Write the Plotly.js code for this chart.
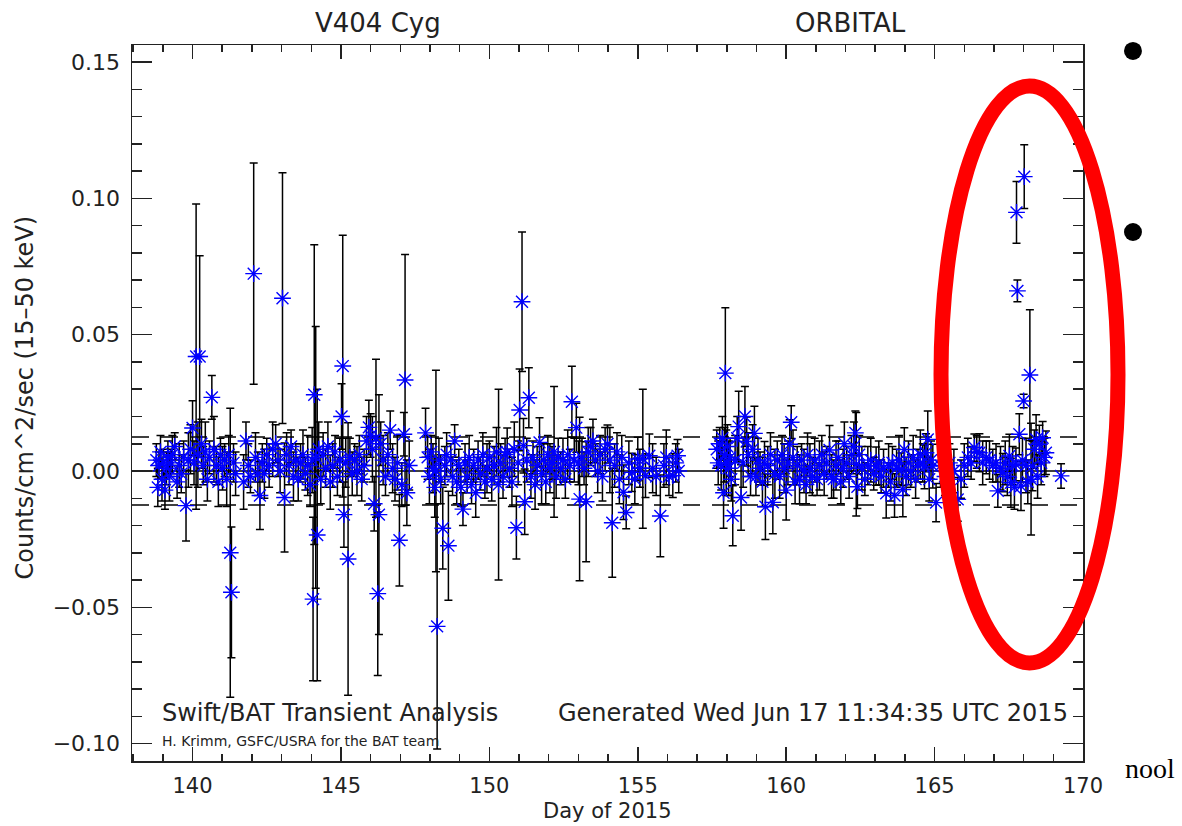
<!DOCTYPE html>
<html><head><meta charset="utf-8">
<script src="https://cdn.plot.ly/plotly-3.0.1.min.js"></script>
<style>html,body{margin:0;padding:0;background:#fff}#chart{width:1182px;height:826px}</style>
</head><body><div id="chart"></div>
<script>
const days = [
138.78,138.83,138.87,138.92,138.97,139.02,139.07,139.12,139.17,139.22,139.27,139.32,139.40,139.48,139.55,139.62,139.70,139.78,139.86,139.93,
140.00,140.05,140.12,140.18,140.24,140.30,140.36,140.43,140.50,140.57,140.65,140.72,140.80,140.87,140.94,141.01,141.08,141.15,141.22,141.27,
141.31,141.38,141.45,141.72,141.80,141.88,141.95,142.06,142.12,142.20,142.27,142.35,142.42,142.50,142.58,142.70,142.80,142.88,142.95,143.03,
143.10,143.17,143.25,143.32,143.40,143.48,143.56,143.64,143.72,143.80,143.88,143.96,144.03,144.06,144.10,144.15,144.20,144.25,144.32,144.40,
144.48,144.56,144.64,144.72,144.80,144.88,144.96,145.02,145.06,145.10,145.16,145.24,145.30,145.38,145.46,145.54,145.62,145.70,145.78,145.86,
145.94,146.00,146.06,146.12,146.18,146.24,146.28,146.34,146.42,146.50,146.58,146.66,146.74,146.82,146.90,146.97,147.05,147.12,147.16,147.22,
147.30,147.85,147.92,147.98,148.04,148.10,148.16,148.20,148.24,148.30,148.36,148.43,148.50,148.56,148.62,148.70,148.76,148.83,148.90,148.97,
149.04,149.11,149.18,149.25,149.32,149.40,149.47,149.54,149.62,149.70,149.78,149.85,149.92,150.00,150.08,150.16,150.24,150.31,150.38,150.46,
150.53,150.60,150.68,150.76,150.84,150.91,150.97,151.02,151.10,151.15,151.19,151.26,151.33,151.40,151.47,151.54,151.61,151.69,151.76,151.83,
151.90,151.97,152.04,152.11,152.18,152.25,152.32,152.40,152.48,152.56,152.64,152.71,152.78,152.86,152.93,153.00,153.04,153.12,153.19,153.26,
153.33,153.41,153.49,153.57,153.65,153.73,153.81,153.90,153.98,154.06,154.14,154.22,154.30,154.38,154.46,154.52,154.61,154.70,154.80,154.90,
155.00,155.07,155.17,155.26,155.39,155.50,155.62,155.76,155.88,155.96,156.05,156.18,156.28,156.34,156.38,
157.66,157.71,157.76,157.81,157.85,157.89,157.92,157.95,157.98,158.02,158.06,158.11,158.15,158.20,158.28,158.35,158.40,158.48,158.55,158.61,
158.67,158.72,158.80,158.87,158.93,158.98,159.05,159.12,159.20,159.27,159.30,159.38,159.47,159.55,159.62,159.70,159.78,159.86,159.93,160.00,
160.06,160.12,160.17,160.23,160.30,160.37,160.45,160.52,160.60,160.67,160.72,160.80,160.88,160.96,161.04,161.12,161.20,161.28,161.36,161.46,
161.53,161.60,161.68,161.76,161.84,161.92,161.96,162.04,162.12,162.20,162.28,162.33,162.36,162.40,162.46,162.55,162.65,162.75,162.85,162.95,
163.03,163.12,163.20,163.28,163.37,163.45,163.52,163.58,163.65,163.72,163.80,163.88,163.93,163.98,164.04,164.12,164.20,164.28,164.36,164.44,
164.52,164.60,164.66,164.71,164.77,164.82,164.88,164.94,165.05,165.20,165.35,165.50,165.65,165.78,165.89,166.00,166.12,166.23,166.34,166.42,
166.51,166.62,166.74,166.85,166.96,167.07,167.13,167.22,167.30,167.38,167.45,167.52,167.57,167.63,167.69,167.74,167.76,167.79,167.855,167.91,
167.96,168.00,168.02,168.08,168.14,168.21,168.25,168.30,168.36,168.42,168.47,168.53,168.59,168.64,168.70,168.75,169.26
];
const rates = [
0.004,-0.006,0.002,0.007,-0.003,0.003,-0.007,0.001,0.005,-0.002,0.003,0.006,0.009,-0.004,0.002,-0.001,0.005,-0.0127,0.004,0.008,
0.0158,0.003,0.042,0.006,0.042,0.010,0.002,0.007,-0.003,0.005,0.027,0.008,0.002,-0.004,0.006,0.001,0.004,-0.003,0.006,-0.030,
-0.0445,0.003,-0.001,-0.004,0.011,0.002,-0.002,0.0724,0.005,-0.001,-0.009,0.003,-0.001,0.006,0.002,0.008,0.010,0.004,0.000,0.0634,
-0.0097,0.006,0.002,0.009,-0.002,0.004,-0.003,0.003,0.006,-0.001,0.002,-0.005,0.004,-0.047,0.028,0.005,-0.0235,0.008,-0.003,0.006,
0.001,0.009,-0.004,0.002,0.007,-0.002,0.004,0.020,0.0385,-0.016,0.003,-0.0323,0.005,-0.001,0.004,0.000,0.006,-0.003,0.002,0.011,
0.016,0.013,0.008,-0.012,0.012,-0.045,-0.016,0.010,0.004,-0.002,0.006,0.015,0.001,-0.003,0.003,-0.0254,-0.005,0.0135,0.0334,-0.008,
0.002,0.014,0.005,-0.002,0.007,0.001,-0.006,0.000,-0.057,0.004,-0.003,-0.021,0.002,0.006,-0.0274,0.004,-0.002,0.011,-0.004,0.002,
-0.006,-0.014,0.003,-0.002,0.005,-0.005,0.002,-0.008,0.004,-0.001,0.006,-0.004,0.001,0.005,-0.003,0.002,0.007,-0.005,0.003,-0.002,
0.006,0.0068,0.001,-0.004,0.008,-0.0208,0.003,0.0224,0.0621,0.0093,-0.0113,0.004,0.0269,-0.002,0.005,-0.005,0.002,0.0105,-0.001,0.004,
-0.004,0.006,0.001,0.003,0.007,-0.002,0.005,0.001,0.004,-0.003,0.006,0.002,0.0254,0.004,0.0159,0.003,-0.0103,0.005,0.001,-0.0113,
0.007,0.009,0.011,0.004,0.000,0.006,-0.002,0.008,0.0099,0.004,-0.019,0.002,0.007,-0.003,0.005,-0.0078,-0.0152,0.003,-0.0005,-0.003,
0.0044,0.001,0.0045,-0.0017,0.0056,0.001,-0.002,-0.0165,0.002,0.005,-0.002,-0.0017,0.003,0.0056,0.000,
0.008,0.003,0.010,0.002,0.012,-0.008,0.006,0.0359,0.003,0.009,0.001,0.005,-0.003,-0.0164,0.004,0.012,0.0163,-0.0097,0.003,0.020,
0.0108,0.006,-0.002,0.008,0.0138,-0.002,0.004,0.001,-0.004,0.0028,-0.0131,0.002,0.006,-0.0115,-0.001,0.004,-0.002,0.006,0.001,-0.007,
0.003,0.0098,0.0179,0.005,-0.004,0.002,-0.003,0.004,0.000,-0.005,0.0059,0.001,-0.002,0.004,-0.003,0.002,0.006,-0.001,0.003,0.0077,
-0.002,-0.003,0.002,0.005,-0.004,0.001,0.010,0.003,-0.002,0.006,0.009,0.014,0.0025,-0.0058,0.006,0.001,-0.003,0.002,0.004,-0.001,
0.0018,0.003,-0.002,0.001,-0.0082,0.002,-0.004,0.003,-0.009,0.001,0.004,0.0006,-0.0068,0.0079,-0.002,0.003,0.000,0.005,-0.003,0.002,
0.006,0.003,0.0015,0.0067,0.0116,-0.003,0.004,0.0018,-0.0116,0.002,-0.002,0.003,0.000,-0.0104,-0.003,0.002,0.005,0.003,0.0086,0.007,
0.0067,0.003,0.005,0.004,0.002,0.003,-0.0073,0.001,-0.0006,0.003,-0.002,0.0055,-0.0043,0.002,-0.006,0.0024,0.0949,0.0661,0.0135,-0.0055,
0.004,0.0257,0.108,0.002,-0.004,0.0352,-0.003,0.0018,0.008,0.0116,-0.002,0.0098,0.003,0.0122,0.005,0.0067,-0.0018
];
const errors = [
0.006,0.007,0.005,0.006,0.008,0.005,0.007,0.006,0.006,0.009,0.005,0.007,0.005,0.006,0.008,0.007,0.006,0.013,0.010,0.009,
0.010,0.008,0.056,0.012,0.037,0.009,0.007,0.011,0.008,0.006,0.008,0.012,0.007,0.009,0.006,0.008,0.006,0.010,0.007,0.053,
0.024,0.007,0.008,0.010,0.007,0.008,0.006,0.0406,0.009,0.008,0.0125,0.007,0.009,0.006,0.008,0.010,0.007,0.006,0.008,0.046,
0.020,0.008,0.007,0.006,0.009,0.006,0.008,0.007,0.009,0.006,0.011,0.008,0.012,0.030,0.055,0.048,0.0535,0.010,0.009,0.008,
0.007,0.009,0.010,0.008,0.006,0.007,0.008,0.012,0.048,0.012,0.009,0.050,0.007,0.008,0.006,0.009,0.007,0.008,0.006,0.009,
0.010,0.008,0.012,0.010,0.029,0.030,0.044,0.008,0.009,0.007,0.008,0.007,0.009,0.008,0.010,0.0168,0.008,0.008,0.046,0.012,
0.009,0.009,0.008,0.010,0.006,0.009,0.011,0.037,0.045,0.008,0.009,0.015,0.007,0.008,0.020,0.006,0.007,0.006,0.008,0.006,
0.007,0.006,0.007,0.006,0.008,0.007,0.006,0.009,0.007,0.006,0.008,0.006,0.009,0.006,0.008,0.007,0.009,0.035,0.007,0.008,
0.006,0.009,0.007,0.009,0.010,0.0115,0.008,0.015,0.0256,0.010,0.012,0.008,0.011,0.008,0.006,0.009,0.007,0.009,0.011,0.006,
0.008,0.007,0.009,0.006,0.024,0.008,0.007,0.006,0.008,0.007,0.009,0.006,0.013,0.008,0.009,0.008,0.030,0.007,0.006,0.022,
0.009,0.007,0.008,0.006,0.008,0.007,0.009,0.008,0.007,0.012,0.020,0.008,0.007,0.009,0.008,0.010,0.006,0.008,0.007,0.009,
0.008,0.007,0.0255,0.008,0.008,0.009,0.007,0.015,0.008,0.010,0.007,0.008,0.007,0.006,0.008,
0.007,0.008,0.006,0.009,0.008,0.013,0.010,0.024,0.012,0.008,0.010,0.007,0.008,0.011,0.009,0.008,0.013,0.012,0.009,0.011,
0.009,0.008,0.007,0.009,0.010,0.007,0.008,0.006,0.009,0.008,0.012,0.007,0.008,0.0115,0.009,0.007,0.008,0.007,0.009,0.011,
0.008,0.009,0.006,0.010,0.008,0.007,0.009,0.006,0.008,0.007,0.008,0.009,0.007,0.008,0.006,0.009,0.007,0.008,0.006,0.009,
0.008,0.007,0.009,0.006,0.008,0.007,0.008,0.006,0.008,0.007,0.009,0.008,0.019,0.008,0.007,0.008,0.006,0.007,0.008,0.006,
0.007,0.008,0.006,0.007,0.009,0.008,0.007,0.006,0.008,0.007,0.009,0.006,0.010,0.008,0.007,0.008,0.006,0.008,0.007,0.006,
0.009,0.007,0.008,0.007,0.0104,0.008,0.007,0.008,0.007,0.008,0.007,0.007,0.008,0.008,0.007,0.008,0.007,0.006,0.005,0.006,
0.007,0.008,0.006,0.007,0.006,0.007,0.006,0.008,0.007,0.008,0.007,0.008,0.009,0.007,0.008,0.006,0.0113,0.004,0.0075,0.009,
0.008,0.0025,0.0117,0.010,0.008,0.024,0.0205,0.009,0.007,0.009,0.008,0.007,0.008,0.006,0.007,0.008,0.0045
];
const referenceLevels = [0];
const thresholdLevels = [-0.0125, 0.0125];
const xTick0 = 140, xTickStep = 5, xMinorStep = 1;
const yTickStep = 0.05, yMinorStep = 0.01;
const xRange = [137.96, 170.0];
const yRange = [-0.1064, 0.1563];
const topTitles = ["V404 Cyg", "ORBITAL"];
const xTitle = "Day of 2015";
const yTitle = "Counts/cm^2/sec (15–50 keV)";
const creditMain = "Swift/BAT Transient Analysis";
const creditSub = "H. Krimm, GSFC/USRA for the BAT team";
const generatedText = "Generated Wed Jun 17 11:34:35 UTC 2015";

const FONT = "DejaVu Sans";
const INK = "#222";

const trace = {
  x: days, y: rates, type: "scatter", mode: "markers",
  marker: {symbol: "asterisk-open", size: 14, color: "#0000ff", line: {color: "#0000ff", width: 1.4}},
  error_y: {type: "data", array: errors, visible: true, color: "#000", thickness: 1.5, width: 4},
  hoverinfo: "x+y"
};

const shapes = [];
referenceLevels.forEach(v => shapes.push({type: "line", xref: "paper", x0: 0, x1: 1, yref: "y", y0: v, y1: v, layer: "below", line: {color: "#000", width: 1.5}}));
thresholdLevels.forEach(v => shapes.push({type: "line", xref: "paper", x0: 0, x1: 1, yref: "y", y0: v, y1: v, layer: "below", line: {color: "#000", width: 1.5, dash: "17px,12px"}}));
// slide overlay: red ellipse and bullets
shapes.push({type: "circle", xref: "paper", yref: "paper", x0: 0.8507, x1: 1.0368, y0: 0.1369, y1: 0.9427, layer: "above", line: {color: "#ff0000", width: 15}});
shapes.push({type: "circle", xref: "paper", yref: "paper", x0: 1.0431, x1: 1.0620, y0: 0.9791, y1: 1.0042, fillcolor: "#000", line: {width: 0}});
shapes.push({type: "circle", xref: "paper", yref: "paper", x0: 1.0431, x1: 1.0620, y0: 0.7263, y1: 0.7514, fillcolor: "#000", line: {width: 0}});

const ann = (text, x, y, size, extra) => Object.assign({text, x, y, xref: "paper", yref: "paper", showarrow: false, font: {family: FONT, size, color: INK}, xanchor: "center", yanchor: "middle"}, extra || {});

const annotations = [
  ann(topTitles[0], 0.2587, 1.031, 26),
  ann(topTitles[1], 0.755, 1.031, 26),
  ann(xTitle, 0.5, -0.0705, 21),
  ann(yTitle, -0.1125, 0.5077, 24, {textangle: -90}),
  ann(creditMain, 0.0294, 0.067, 24, {xanchor: "left"}),
  ann(generatedText, 0.9863, 0.067, 24, {xanchor: "right"}),
  ann(creditSub, 0.0294, 0.028, 14, {xanchor: "left"}),
  {text: "nool", x: 1.042, y: -0.010, xref: "paper", yref: "paper", showarrow: false, xanchor: "left", yanchor: "middle", font: {family: "Liberation Serif", size: 28, color: "#000"}}
];

const axisCommon = {showline: true, linewidth: 1.5, linecolor: INK, mirror: "ticks", ticks: "inside", tickwidth: 1.5, tickcolor: INK, showgrid: false, zeroline: false, tickfont: {family: FONT, size: 21, color: INK}};

const layout = {
  width: 1182, height: 826,
  margin: {l: 132, r: 99, t: 45, b: 65, pad: 0},
  paper_bgcolor: "#fff", plot_bgcolor: "#fff",
  showlegend: false,
  xaxis: Object.assign({}, axisCommon, {range: xRange, tickmode: "linear", tick0: xTick0, dtick: xTickStep, ticklen: 14, ticklabelstandoff: 5,
    minor: {tick0: xTick0, dtick: xMinorStep, ticks: "inside", ticklen: 7, tickwidth: 1.5, tickcolor: INK, showgrid: false}}),
  yaxis: Object.assign({}, axisCommon, {range: yRange, tickmode: "linear", tick0: 0, dtick: yTickStep, tickformat: ".2f", ticklen: 20, ticklabelstandoff: 6, tickfont: {family: FONT, size: 22, color: INK},
    minor: {tick0: 0, dtick: yMinorStep, ticks: "inside", ticklen: 10, tickwidth: 1.5, tickcolor: INK, showgrid: false}}),
  shapes, annotations
};

Plotly.newPlot("chart", [trace], layout, {displayModeBar: false, staticPlot: true});
</script>
</body></html>
